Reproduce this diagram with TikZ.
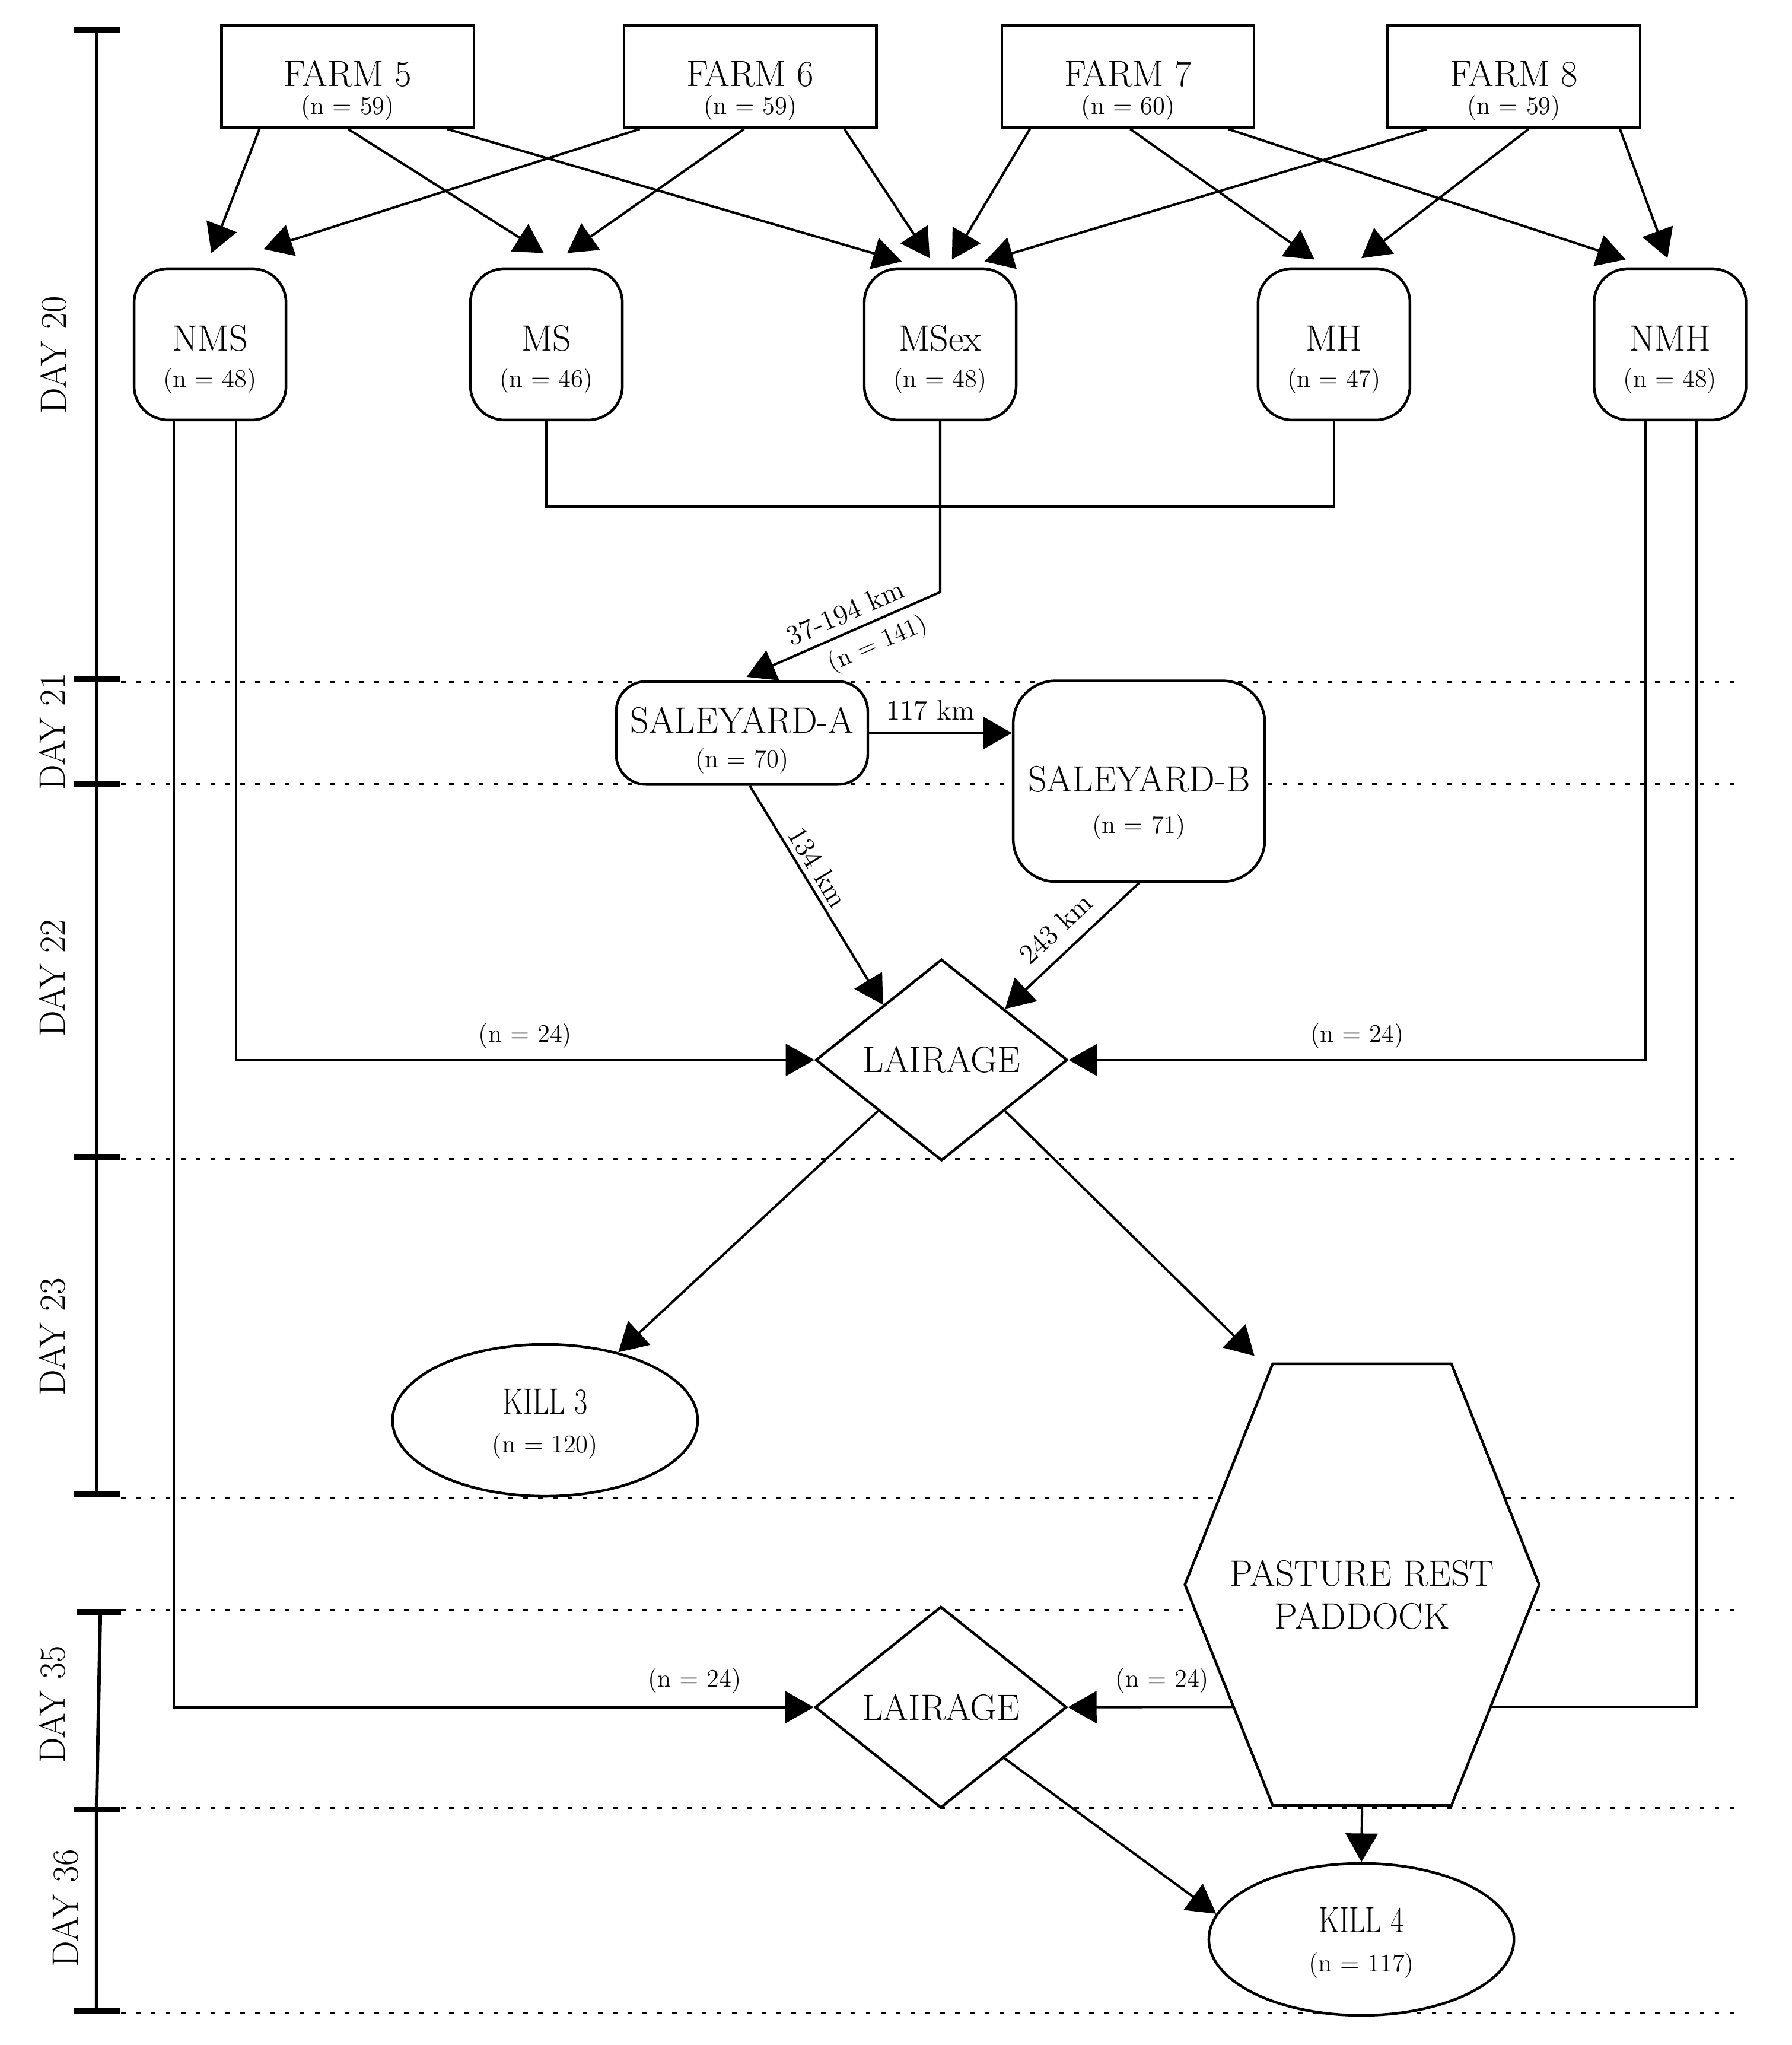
\documentclass[tikz,border=0pt]{standalone}
\usepackage{graphicx}
\usetikzlibrary{shapes.geometric,arrows.meta,calc}
\newcommand\mainf{\fontsize{16}{19}\selectfont}
\newcommand\nsz{\fontsize{11}{13}\selectfont}
\newcommand\kmf{\fontsize{12.3}{14}\selectfont}
\newcommand\lblf{\fontsize{11}{13}\selectfont}
\newcommand\dayf{\fontsize{16}{19}\selectfont}
% two lines of text: #1 raise of first baseline, #2 baseline separation
\newcommand\tlines[4]{\makebox[0pt]{\raisebox{#1}[0pt][0pt]{\makebox[0pt]{#3}}}\makebox[0pt]{\raisebox{\dimexpr#1-#2\relax}[0pt][0pt]{\makebox[0pt]{#4}}}}
\tikzset{
  shapeline/.style={line width=1.15pt},
  farm/.style={shapeline, draw, fill=white, minimum width=3.87cm, minimum height=1.566cm, inner sep=0pt},
  grp/.style={shapeline, draw, fill=white, rounded corners=0.52cm, minimum width=2.33cm, minimum height=2.32cm, inner sep=0pt},
  saleA/.style={shapeline, draw, fill=white, rounded corners=0.46cm, minimum width=3.86cm, minimum height=1.58cm, inner sep=0pt},
  saleB/.style={shapeline, draw, fill=white, rounded corners=0.65cm, minimum width=3.86cm, minimum height=3.08cm, inner sep=0pt},
  lair/.style={diamond, shapeline, draw, fill=white, minimum width=3.86cm, minimum height=3.09cm, inner sep=0pt, font=\mainf},
  kill/.style={ellipse, shapeline, draw, fill=white, minimum width=4.68cm, minimum height=2.33cm, inner sep=0pt},
  hexbox/.style={draw=none, minimum width=5.42cm, minimum height=6.76cm, inner sep=0pt},
  plain/.style={inner sep=0pt},
  conn/.style={line width=1.05pt},
  arr/.style={line width=1.05pt, -{Triangle[length=12.5pt,width=14pt]}},
  elab/.style={font=\lblf, inner sep=2.5pt},
  kmlab/.style={font=\kmf, inner sep=2pt},
  dotline/.style={line width=1.1pt, dash pattern=on 2pt off 4.5pt},
  tline/.style={line width=1.5pt},
  tickmark/.style={line width=2.6pt},
  daylab/.style={font=\dayf, rotate=90, inner sep=0pt},
}
\begin{document}
\begin{tikzpicture}[x=0.02cm,y=-0.02cm]
\useasboundingbox (0,0) rectangle (1374,1568);

% ---- dotted day separators
\foreach \yy in {523,601,889,1148.5,1234.5,1386,1543.5}
  \draw[dotline] (93,\yy) -- (1336,\yy);

% ---- time line
\draw[tline] (74,23) -- (74,1146);
\foreach \yy in {23,520.5,601.5,887,1146}
  \draw[tickmark] (57,\yy) -- (92,\yy);
\draw[tline] (77,1236) -- (74,1387.5) -- (74,1541.5);
\draw[tickmark] (59,1236) -- (93,1236);
\foreach \yy in {1387.5,1541.5}
  \draw[tickmark] (57,\yy) -- (92,\yy);

\node[daylab] (d20) at (41,272) {DAY 20};
\node[daylab] (d21) at (40,561) {DAY 21};
\node[daylab] (d22) at (40,750) {DAY 22};
\node[daylab] (d23) at (40,1025) {DAY 23};
\node[daylab] (d35) at (40,1307) {DAY 35};
\node[daylab] (d36) at (50,1463) {DAY 36};

% ---- farms
\node[farm] (f5) at (266.7,58.8) {\tlines{-0.152cm}{0.424cm}{\mainf FARM 5}{\nsz (n = 59)}};
\node[farm] (f6) at (575.3,58.8) {\tlines{-0.152cm}{0.424cm}{\mainf FARM 6}{\nsz (n = 59)}};
\node[farm] (f7) at (865,58.8) {\tlines{-0.152cm}{0.424cm}{\mainf FARM 7}{\nsz (n = 60)}};
\node[farm] (f8) at (1161,58.8) {\tlines{-0.152cm}{0.424cm}{\mainf FARM 8}{\nsz (n = 59)}};

% ---- groups
\node[grp] (nms) at (161.1,264) {\tlines{-0.10cm}{0.56cm}{\mainf NMS}{\nsz (n = 48)}};
\node[grp] (ms) at (419,264) {\tlines{-0.10cm}{0.56cm}{\mainf MS}{\nsz (n = 46)}};
\node[grp] (msex) at (721,264) {\tlines{-0.10cm}{0.56cm}{\mainf MSex}{\nsz (n = 48)}};
\node[grp] (mh) at (1023,264) {\tlines{-0.10cm}{0.56cm}{\mainf MH}{\nsz (n = 47)}};
\node[grp] (nmh) at (1280.7,264) {\tlines{-0.10cm}{0.56cm}{\mainf NMH}{\nsz (n = 48)}};

% ---- saleyards
\node[saleA] (saleA) at (569,562) {\tlines{0cm}{0.53cm}{\mainf SALEYARD-A}{\nsz (n = 70)}};
\node[saleB] (saleB) at (873.5,599) {\tlines{-0.16cm}{0.64cm}{\mainf SALEYARD-B}{\nsz (n = 71)}};

% ---- lairages
\node[lair] (lair1) at (722,812.7) {LAIRAGE};
\node[lair] (lair2) at (721.5,1309) {LAIRAGE};

% ---- kills
\node[kill] (kill3) at (418,1089) {\tlines{0.10cm}{0.6cm}{\mainf\scalebox{0.78}[1]{KILL 3}}{\nsz (n = 120)}};
\node[kill] (kill4) at (1044,1487) {\tlines{0.10cm}{0.6cm}{\mainf\scalebox{0.78}[1]{KILL 4}}{\nsz (n = 117)}};

% ---- pasture rest paddock (hexagon)
\node[hexbox] (hex) at (1044.5,1215) {};
\coordinate (hexNW) at ($(hex.north)+(-68.5,0)$);
\coordinate (hexNE) at ($(hex.north)+(68.5,0)$);
\coordinate (hexSW) at ($(hex.south)+(-68.5,0)$);
\coordinate (hexSE) at ($(hex.south)+(68.5,0)$);
\filldraw[shapeline, fill=white] (hexNW) -- (hexNE) -- (hex.east) -- (hexSE) -- (hexSW) -- (hex.west) -- cycle;
\node[plain] (hexT) at (hex.center) {\tlines{-0.02cm}{0.66cm}{\mainf PASTURE REST}{\mainf PADDOCK}};

% ---- farms to groups
\draw[arr] ($(f5.south west)+(30,0)$) -- ($(nms.north)+(1,-11)$);
\draw[arr] ($(f5.south west)+(98,0)$) -- ($(ms.north)+(-2,-11)$);
\draw[arr] ($(f5.south west)+(174,0)$) -- ($(msex.north)+(-29.5,-4.5)$);
\draw[arr] ($(f6.south west)+(13,0)$) -- ($(nms.north)+(41,-14)$);
\draw[arr] ($(f6.south west)+(93,0)$) -- ($(ms.north)+(16,-11)$);
\draw[arr] ($(f6.south west)+(170,0)$) -- ($(msex.north)+(-8,-7)$);
\draw[arr] ($(f7.south west)+(22.5,0)$) -- ($(msex.north)+(9,-6)$);
\draw[arr] ($(f7.south west)+(99.5,0)$) -- ($(mh.north)+(-15,-6)$);
\draw[arr] ($(f7.south west)+(174.5,0)$) -- ($(nmh.north)+(-34,-6)$);
\draw[arr] ($(f8.south west)+(31,0)$) -- ($(msex.north)+(34,-4.5)$);
\draw[arr] ($(f8.south west)+(109,0)$) -- ($(mh.north)+(21,-7)$);
\draw[arr] ($(f8.south west)+(179,0)$) -- ($(nmh.north)+(-2,-7)$);

% ---- groups onward
\draw[conn] (ms.south) -- ++(0,65.6) -| (mh.south);
\draw[arr] (msex.south) -- ++(0,131)
  -- node[kmlab, sloped, above=1.5pt, pos=0.45] {37-194 km}
     node[elab, sloped, below=1.5pt, pos=0.37] {(n = 141)}
  ($(saleA.north)+(3.5,-2.5)$);
\draw[arr] (saleA.east) -- node[kmlab, pos=0.43, above=3pt] {117 km} (saleA.east -| saleB.west);
\draw[arr] ($(saleA.south)+(6,0)$) -- node[kmlab, sloped, above, pos=0.41] {134 km} ($(lair1.north)!0.46!(lair1.west)$);
\draw[arr] (saleB.south) -- node[kmlab, sloped, above=3.5pt, pos=0.5] {243 km} ($(lair1.north)!0.5!(lair1.east)$);

\draw[arr] ($(nms.south)+(20,0)$) |- node[elab, pos=0.75, above=2pt] {(n = 24)} (lair1.west);
\draw[arr] ($(nmh.south)+(-19,0)$) |- node[elab, pos=0.75, above=2pt] {(n = 24)} (lair1.east);
\draw[arr] ($(nms.south)+(-28,0)$) |- node[elab, pos=0.907, above=3pt] {(n = 24)} (lair2.west);
\draw[conn] ($(nmh.south)+(20.5,0)$) |- ($(hex.east)!0.554!(hexSE)$);
\draw[arr] ($(hex.west)!0.554!(hexSW)$) -- node[elab, pos=0.43, above=3pt] {(n = 24)} (lair2.east);

\draw[arr] ($(lair1.west)!0.5!(lair1.south)$) -- (kill3);
\draw[arr] ($(lair1.east)!0.5!(lair1.south)$) -- ($(hexNW)+(-14,-6)$);
\draw[arr] (hex.south) -- (kill4.north);
\draw[arr] ($(lair2.east)!0.5!(lair2.south)$) -- (kill4.170);
\end{tikzpicture}
\end{document}
